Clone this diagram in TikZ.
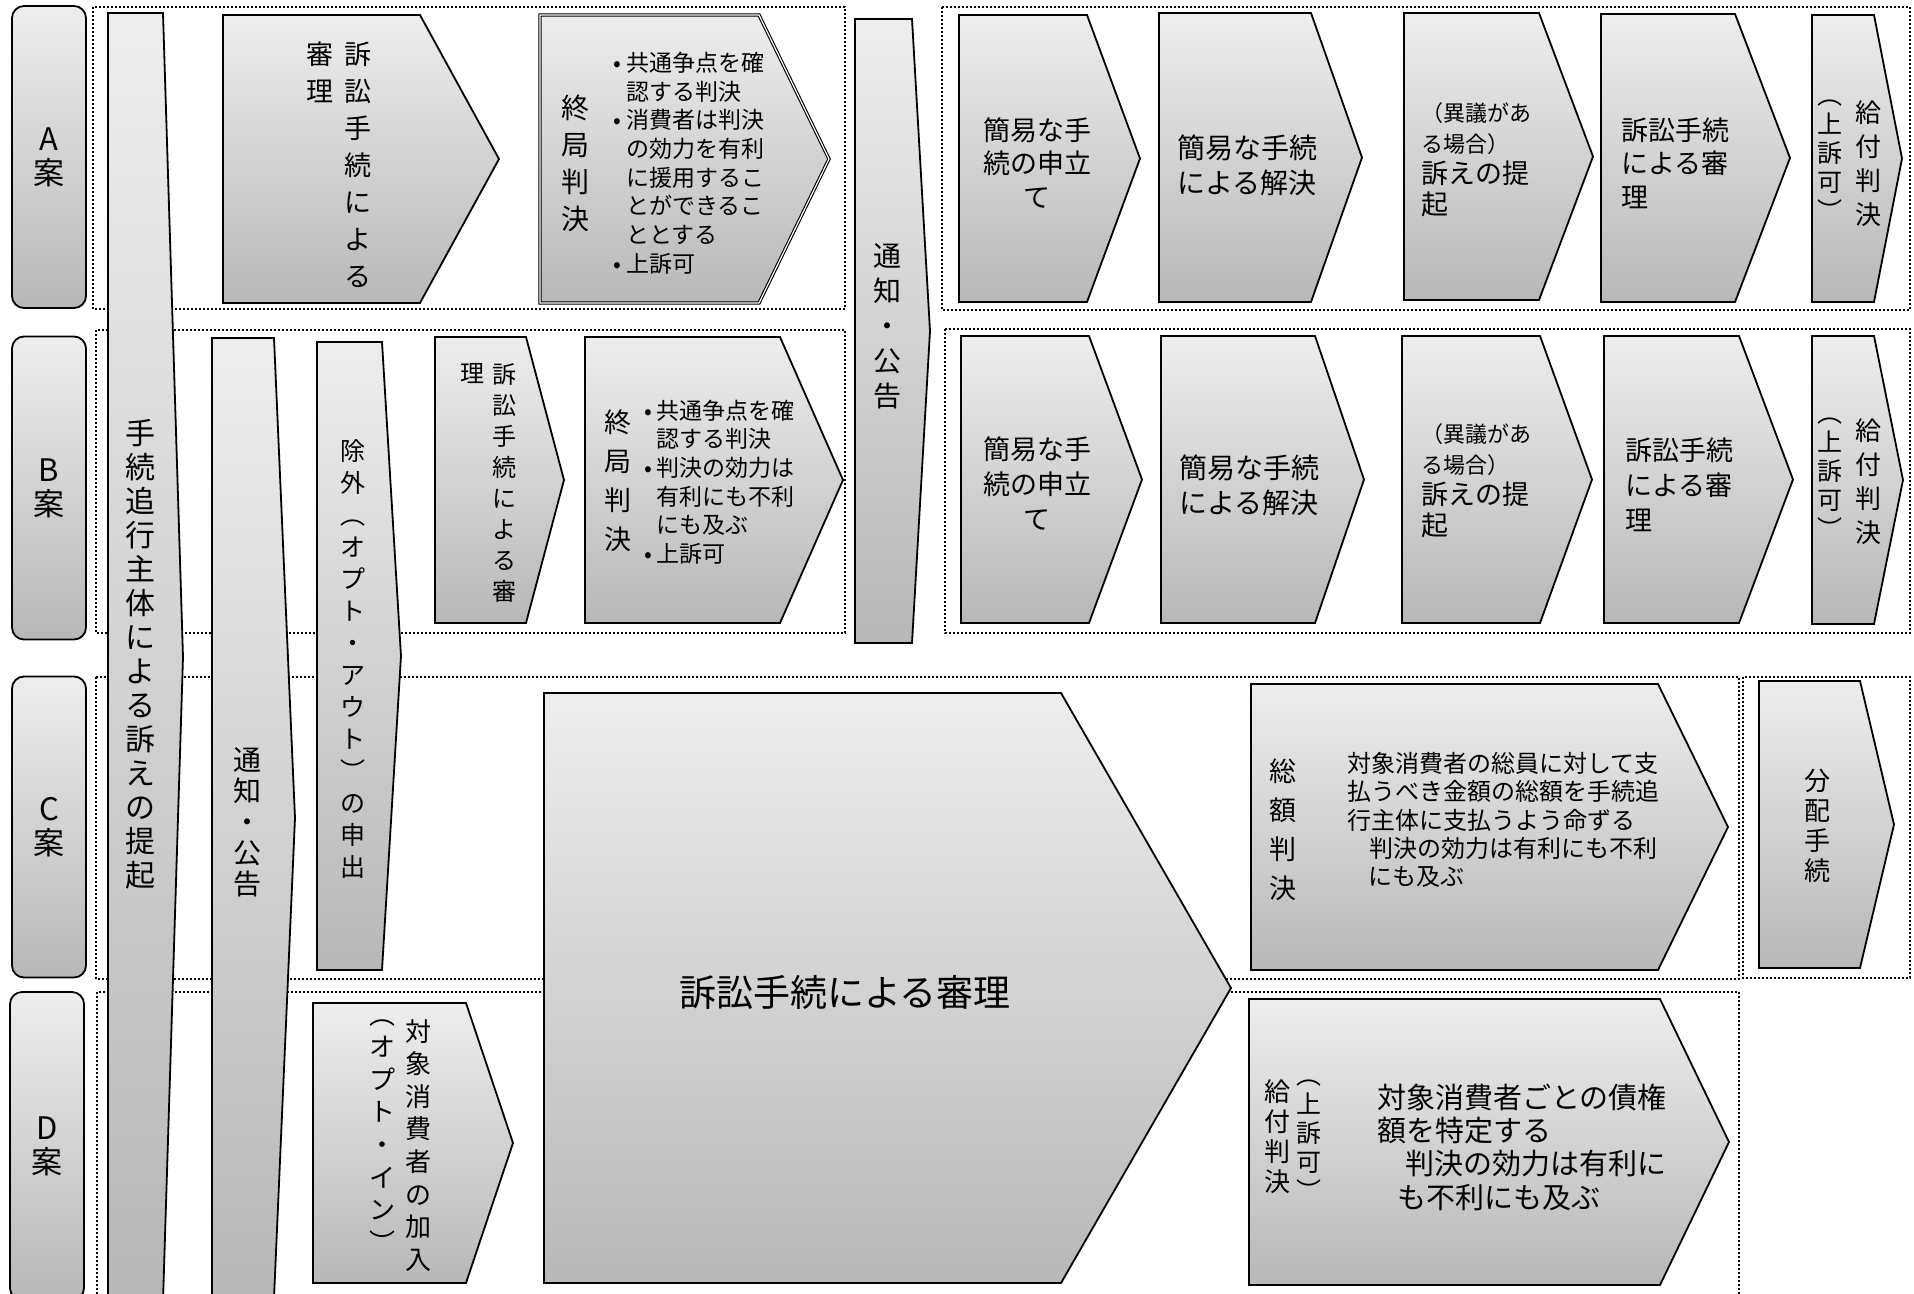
\documentclass[tikz,border=0pt]{standalone}
\usepackage{fontspec}
\setmainfont{Noto Sans CJK JP}
\usetikzlibrary{calc}
\newcommand{\Fs}[2]{\fontsize{#1}{#2}\selectfont}
% chevron: [extra style] {name}{x left}{y top}{x body right}{y bottom}{x tip}
\newcommand{\Chev}[7][]{%
  \draw[Chevron,#1] (#3,#4) -- (#5,#4) -- (#7,{(#4+#6)/2}) -- (#5,#6) -- (#3,#6) -- cycle;
  \coordinate (#2) at ({(#3+#5)/2},{(#4+#6)/2});
}
\tikzset{Chevron/.style={
    draw=black,
    line width=1.8pt,
    line join=miter,
    top color=black!7,
    bottom color=black!28,
    }
}

\begin{document}
\begin{tikzpicture}[x=1pt, y=-1pt,
    Lane/.style={draw=black, line width=1.6pt, dash pattern=on 2pt off 2pt},
    Tag/.style={draw=black, line width=1.8pt, rounded corners=12pt,
      top color=black!7, bottom color=black!28, inner sep=0pt,
      minimum width=74pt, align=center, font=\Fs{31}{34}},
    Txt/.style={inner sep=0pt, align=center},
    Lft/.style={inner sep=0pt, align=left},
]
\useasboundingbox (0,0) rectangle (1914,1293);
\clip (0,0) rectangle (1914,1293);

% lanes
\draw[Lane] (93,7) rectangle (845,309);
\draw[Lane] (942,7) rectangle (1910,310);
\draw[Lane] (96,330) rectangle (845,633);
\draw[Lane] (945,329) rectangle (1910,633);
\draw[Lane] (96,677) rectangle (1739,979);
\draw[Lane] (1743,677) rectangle (1910,978);
\draw[Lane] (97,992) rectangle (1739,1320);

% row tags
\node[Tag, minimum height=302pt] (tagA) at (49,157) {A\\案};
\node[Tag, minimum height=303pt] (tagB) at (49,488) {B\\案};
\node[Tag, minimum height=301pt] (tagC) at (49,827) {C\\案};
\node[Tag, minimum height=308pt] (tagD) at (47,1146) {D\\案};

% long bars
\Chev{mainbar}{108}{13}{163}{1301}{183}
\Chev{noticeL}{212}{338}{274}{1298}{295}
\Chev{optout}{317}{342}{382}{970}{401}
\Chev{noticeM}{855}{19}{912}{643}{930}
\node[Txt, font=\Fs{30}{34}] (mainbarT) at (140,654) {手\\続\\追\\行\\主\\体\\に\\よ\\る\\訴\\え\\の\\提\\起};
\node[Txt, font=\Fs{28}{31}] (noticeLT) at (247,822) {通\\知\\・\\公\\告};
\node[Txt, font=\Fs{25}{32}] (optoutT) at (353,659) {除\\外\\︵\\オ\\プ\\ト\\・\\ア\\ウ\\ト\\︶\\の\\申\\出};
\node[Txt, font=\Fs{28}{35}] (noticeMT) at (887,326) {通\\知\\・\\公\\告};

% A
\Chev{aTrial}{223}{15}{420}{303}{499}
\Chev[double=white, double distance=1.2pt, line width=1.1pt]{aFinal}{540}{15}{759}{303}{829}
\Chev{aReq}{959}{15}{1087}{302}{1140}
\Chev{aSimple}{1159}{13}{1311}{302}{1362}
\Chev{aObj}{1404}{13}{1539}{300}{1593}
\Chev{aSuit}{1601}{14}{1735}{302}{1790}
\Chev{aPay}{1812}{15}{1874}{302}{1902}
\node[Txt, font=\Fs{27}{37}, anchor=north] (aTrialT1) at (358,42) {訴\\訟\\手\\続\\に\\よ\\る};
\node[Txt, font=\Fs{27}{37}, anchor=north] (aTrialT2) at (320,42) {審\\理};
\node[Txt, font=\Fs{28}{37}] (aFinalT1) at (575,163) {終\\局\\判\\決};
\node[Lft, font=\Fs{23}{28.7}, anchor=west] (aFinalT2) at (626,163)
  {\llap{•\hspace{5pt}}共通争点を確\\認する判決\\\llap{•\hspace{5pt}}消費者は判決\\の効力を有利\\に援用するこ\\とができるこ\\ととする\\\llap{•\hspace{5pt}}上訴可};
\node[Txt, font=\Fs{27}{33.5}] (aReqT) at (1037,163) {簡易な手\\続の申立\\て};
\node[Txt, font=\Fs{28}{35}] (aSimpleT) at (1247,165) {簡易な手続\\による解決};
\node[Lft, font=\Fs{27}{31}, anchor=west] (aObjT) at (1421,160)
  {{\Fs{22}{27}（異議があ}\\{\Fs{22}{27}る場合）}\\訴えの提\\起};
\node[Lft, font=\Fs{27}{33.5}, anchor=west] (aSuitT) at (1621,163) {訴訟手続\\による審\\理};
\node[Txt, font=\Fs{26}{34}] (aPayT1) at (1868,164) {給\\付\\判\\決};
\node[Txt, font=\Fs{25}{29}] (aPayT2) at (1830,160) {︵\\上\\訴\\可\\︶};

% B
\Chev{bTrial}{435}{337}{526}{623}{564}
\Chev{bFinal}{585}{337}{780}{623}{843}
\Chev{bReq}{961}{336}{1089}{623}{1142}
\Chev{bSimple}{1161}{336}{1315}{623}{1364}
\Chev{bObj}{1402}{336}{1540}{623}{1592}
\Chev{bSuit}{1604}{336}{1739}{623}{1793}
\Chev{bPay}{1812}{336}{1874}{624}{1903}
\node[Txt, font=\Fs{24}{31}, anchor=north] (bTrialT1) at (504,363) {訴\\訟\\手\\続\\に\\よ\\る\\審};
\node[Txt, font=\Fs{24}{31}, anchor=north] (bTrialT2) at (472,363) {理};
\node[Txt, font=\Fs{27}{39}] (bFinalT1) at (618,481) {終\\局\\判\\決};
\node[Lft, font=\Fs{23}{28.6}, anchor=west] (bFinalT2) at (656,482)
  {\llap{•\hspace{4pt}}共通争点を確\\認する判決\\\llap{•\hspace{4pt}}判決の効力は\\有利にも不利\\にも及ぶ\\\llap{•\hspace{4pt}}上訴可};
\node[Txt, font=\Fs{27}{35}] (bReqT) at (1037,484) {簡易な手\\続の申立\\て};
\node[Txt, font=\Fs{28}{35}] (bSimpleT) at (1249,485) {簡易な手続\\による解決};
\node[Lft, font=\Fs{27}{31}, anchor=west] (bObjT) at (1421,481)
  {{\Fs{22}{27}（異議があ}\\{\Fs{22}{27}る場合）}\\訴えの提\\起};
\node[Lft, font=\Fs{27}{35}, anchor=west] (bSuitT) at (1625,485) {訴訟手続\\による審\\理};
\node[Txt, font=\Fs{26}{34}] (bPayT1) at (1868,482) {給\\付\\判\\決};
\node[Txt, font=\Fs{25}{29}] (bPayT2) at (1830,478) {︵\\上\\訴\\可\\︶};

% C and D
\Chev{cdTrial}{544}{693}{1061}{1283}{1231}
\Chev{cTotal}{1251}{684}{1658}{970}{1728}
\Chev{cDist}{1759}{681}{1860}{968}{1894}
\Chev{dOptin}{313}{1003}{466}{1283}{513}
\Chev{dPay}{1249}{999}{1660}{1285}{1729}
\node[Txt, font=\Fs{37}{42}] (cdTrialT) at (845,992) {訴訟手続による審理};
\node[Txt, font=\Fs{27}{39}] (cTotalT1) at (1283,830) {総\\額\\判\\決};
\node[Lft, font=\Fs{24}{28.3}, anchor=west] (cTotalT2) at (1347,820)
  {対象消費者の総員に対して支\\払うべき金額の総額を手続追\\行主体に支払うよう命ずる\\\hspace*{22pt}判決の効力は有利にも不利\\\hspace*{21pt}にも及ぶ};
\node[Txt, font=\Fs{26}{30}] (cDistT) at (1817,826) {分\\配\\手\\続};
\node[Txt, font=\Fs{26}{32.6}, anchor=north] (dOptinT1) at (418,1019) {対\\象\\消\\費\\者\\の\\加\\入};
\node[Txt, font=\Fs{26}{32.6}, anchor=north] (dOptinT2) at (382,1019) {︵\\オ\\プ\\ト\\・\\イ\\ン\\︶};
\node[Txt, font=\Fs{26}{30}] (dPayT1) at (1277,1137) {給\\付\\判\\決};
\node[Txt, font=\Fs{25}{29}] (dPayT2) at (1309,1140) {︵\\上\\訴\\可\\︶};
\node[Lft, font=\Fs{29}{33.3}, anchor=west] (dPayT3) at (1377,1147)
  {対象消費者ごとの債権\\額を特定する\\\hspace*{28pt}判決の効力は有利に\\\hspace*{20pt}も不利にも及ぶ};
\end{tikzpicture}
\end{document}
